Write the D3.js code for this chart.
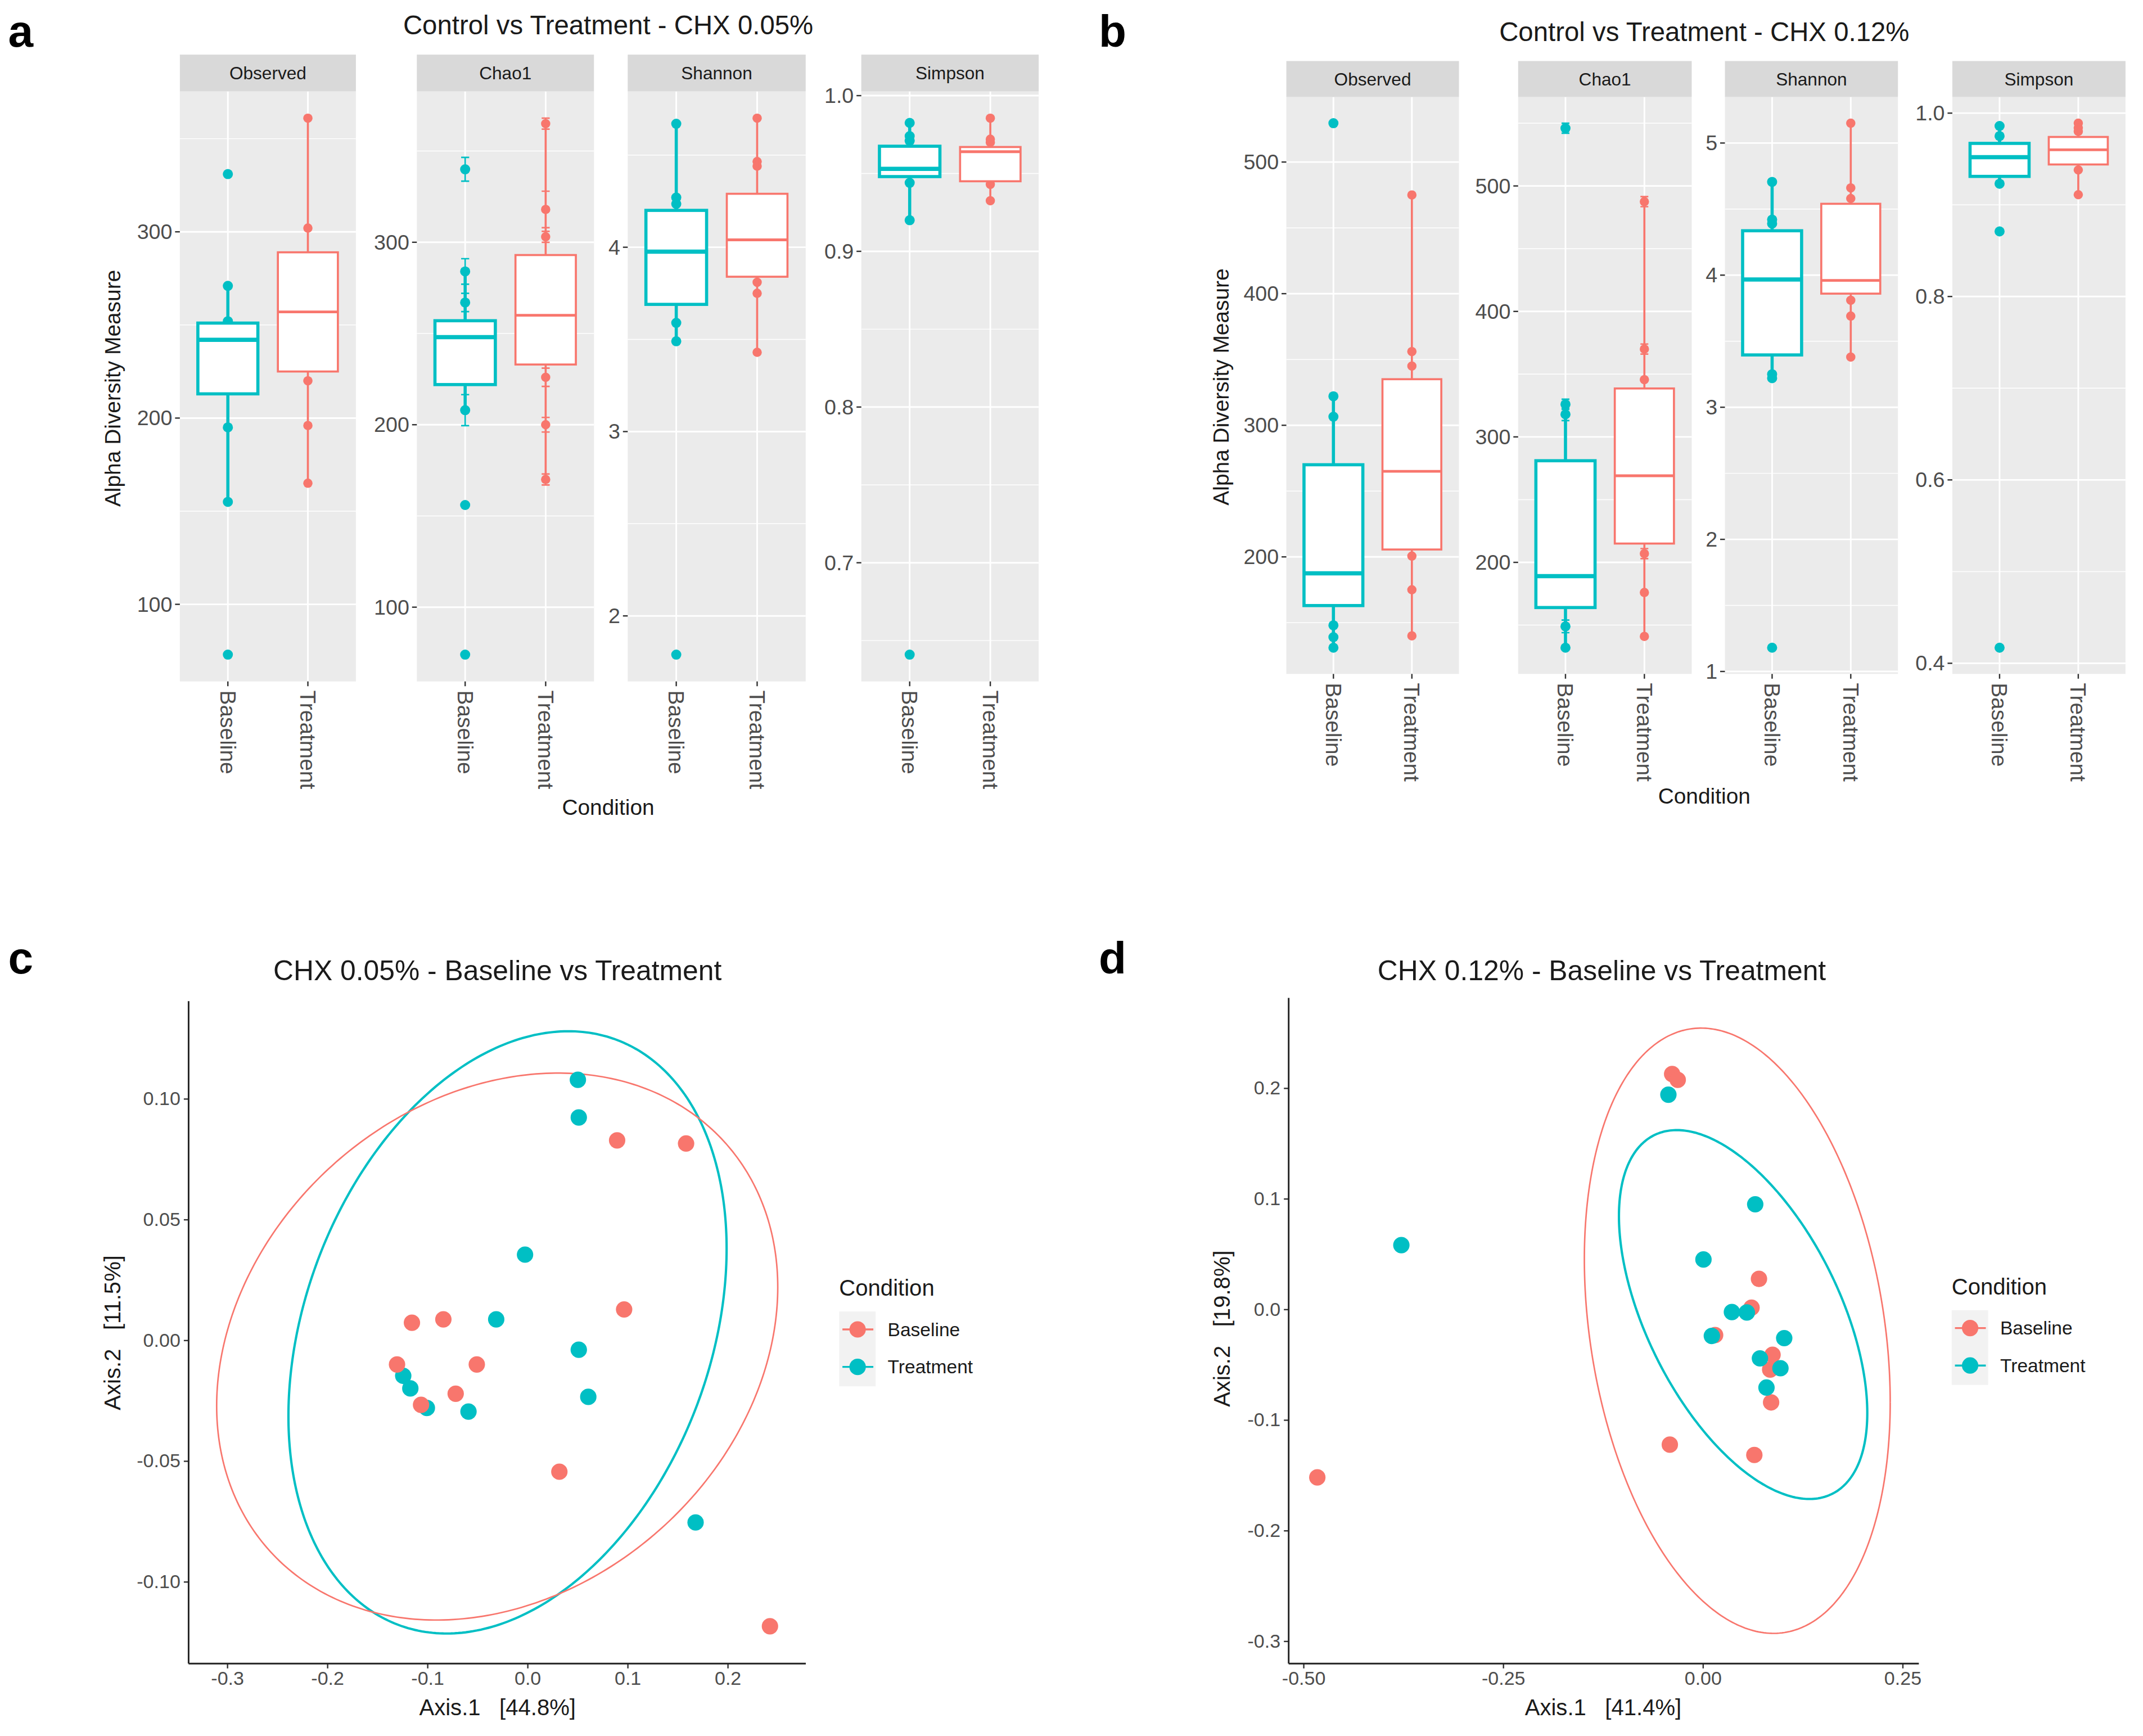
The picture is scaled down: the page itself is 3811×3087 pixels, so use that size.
<!DOCTYPE html>
<html><head><meta charset="utf-8">
<script src="https://cdn.jsdelivr.net/npm/d3@7"></script>
<style>html,body{margin:0;padding:0;background:#fff;} svg{display:block;} text{font-family:"Liberation Sans",Arial,Helvetica,sans-serif; white-space:pre;}</style>
</head><body><svg id="chart"></svg>
<script>
// ---------------- DATA ----------------
const conditions = ["Baseline", "Treatment"];
const measures = ["Observed", "Chao1", "Shannon", "Simpson"];

// Panel a: CHX 0.05%  (points per condition [Baseline, Treatment]; box = [q1, median, q3, whiskerLow, whiskerHigh])
const aObservedPoints = [[331, 271, 252, 195, 155, 73], [361, 302, 220, 196, 165]];
const aObservedBox = [[213, 242, 251, 155, 271], [225, 257, 289, 165, 361]];
const aChao1Points = [[340, 284, 267, 208, 156, 74], [365, 318, 303, 226, 200, 170]];
const aChao1SE = [[6.5, 7, 5, 8.5, 0, 0], [3, 10, 3, 5, 4, 3]];
const aChao1Box = [[222, 248, 257, 208, 284], [233, 260, 293, 170, 365]];
const aShannonPoints = [[4.67, 4.27, 4.235, 3.59, 3.49, 1.79], [4.70, 4.465, 4.44, 3.81, 3.75, 3.43]];
const aShannonBox = [[3.69, 3.976, 4.20, 3.49, 4.67], [3.84, 4.04, 4.29, 3.43, 4.70]];
const aSimpsonPoints = [[0.9825, 0.974, 0.971, 0.944, 0.92, 0.641], [0.9855, 0.972, 0.970, 0.943, 0.9325]];
const aSimpsonBox = [[0.948, 0.953, 0.9675, 0.92, 0.9825], [0.945, 0.964, 0.967, 0.9325, 0.9855]];
const aTicks = [[100, 200, 300], [100, 200, 300], [2, 3, 4], [0.7, 0.8, 0.9, 1.0]];

// Panel b: CHX 0.12%
const bObservedPoints = [[529.5, 322, 306.5, 148, 139, 131], [475, 356, 345, 200.6, 175, 140]];
const bObservedBox = [[163, 187.5, 270, 131, 322], [205.6, 265, 335, 140, 475]];
const bChao1Points = [[546, 326, 318, 149, 132], [487.5, 370, 345.6, 207, 176, 141]];
const bChao1SE = [[4, 4, 5, 5, 0], [4, 4, 0, 4, 0, 0]];
const bChao1Box = [[164, 189, 281, 132, 318], [215, 269, 338.6, 141, 487.5]];
const bShannonPoints = [[4.706, 4.42, 4.39, 3.25, 3.22, 1.18], [5.15, 4.66, 4.58, 3.81, 3.69, 3.38]];
const bShannonBox = [[3.396, 3.967, 4.336, 3.22, 4.706], [3.86, 3.96, 4.54, 3.38, 5.15]];
const bSimpsonPoints = [[0.986, 0.975, 0.923, 0.871, 0.417], [0.989, 0.984, 0.98, 0.938, 0.911]];
const bSimpsonBox = [[0.931, 0.952, 0.967, 0.923, 0.986], [0.944, 0.960, 0.974, 0.911, 0.989]];
const bTicks = [[200, 300, 400, 500], [200, 300, 400, 500], [1, 2, 3, 4, 5], [0.4, 0.6, 0.8, 1.0]];

const tickFormats = ["d", "d", "d", ".1f"];

// Panel c: PCoA CHX 0.05%
const cBaselineX = [0.0899, 0.1588, 0.0969, -0.1151, -0.0837, -0.1300, -0.0503, -0.0714, -0.1060, 0.0322, 0.2426];
const cBaselineY = [0.0826, 0.0813, 0.0126, 0.0071, 0.0085, -0.0102, -0.0102, -0.0223, -0.0269, -0.0546, -0.1186];
const cTreatmentX = [0.0507, 0.0516, -0.0021, -0.0309, 0.0516, 0.0611, -0.1238, -0.1167, -0.1002, -0.0586, 0.1683];
const cTreatmentY = [0.1077, 0.0921, 0.0353, 0.0085, -0.0041, -0.0236, -0.0149, -0.0201, -0.0282, -0.0297, -0.0756];
// ellipse: [centerX, centerY, sdX, sdY, covXY]
const cEllipseBaseline = [-0.0299, -0.00277, 0.2803, 0.11325, 0.006886];
const cEllipseTreatment = [-0.0196, 0.0031, 0.2189, 0.1247, 0.007594];
const cXTicks = [-0.3, -0.2, -0.1, 0.0, 0.1, 0.2];
const cYTicks = [-0.10, -0.05, 0.00, 0.05, 0.10];

// Panel d: PCoA CHX 0.12%
const dBaselineX = [-0.4822, -0.0380, -0.0310, 0.0707, 0.0614, 0.0158, 0.0877, 0.0847, 0.0859, -0.0409, 0.0649];
const dBaselineY = [-0.1523, 0.2124, 0.2071, 0.0272, 0.0012, -0.0236, -0.0414, -0.0548, -0.0845, -0.1227, -0.1320];
const dTreatmentX = [-0.3770, -0.0427, 0.0660, 0.0012, 0.0368, 0.0555, 0.0117, 0.1023, 0.0719, 0.0976, 0.0801];
const dTreatmentY = [0.0577, 0.1937, 0.0946, 0.0447, -0.0028, -0.0032, -0.0244, -0.0264, -0.0447, -0.0536, -0.0711];
const dEllipseBaseline = [0.04355, -0.0197, 0.19145, 0.2736, -0.01239];
const dEllipseTreatment = [0.05085, -0.00507, 0.15545, 0.16675, -0.01384];
const dXTicks = [-0.50, -0.25, 0.00, 0.25];
const dYTicks = [-0.3, -0.2, -0.1, 0.0, 0.1, 0.2];

// ---------------- DRAWING ----------------
const W = 1568, H = 1270;
const TEAL = "#00BFC4", SALMON = "#F8766D";
const loc = d3.formatLocale({decimal: ".", thousands: ",", grouping: [3], currency: ["", ""], minus: "-"});
const svg = d3.select("#chart").attr("width", 3811).attr("height", 3087).attr("viewBox", `0 0 ${W} ${H}`);
svg.append("rect").attr("width", W).attr("height", H).attr("fill", "#fff");

function label(t, x, y, size, opts = {}) {
  const el = svg.append("text").attr("x", x).attr("y", y).attr("font-size", size)
    .attr("fill", opts.fill || "#1a1a1a").attr("text-anchor", opts.anchor || "middle")
    .attr("xml:space", "preserve").text(t);
  if (opts.weight) el.attr("font-weight", opts.weight);
  if (opts.rotate) el.attr("transform", `rotate(${opts.rotate},${x},${y})`);
  if (opts.baseline) el.attr("dominant-baseline", opts.baseline);
  return el;
}

// Panel letters
label("a", 6, 34, 33, {anchor: "start", weight: "bold", fill: "#000"});
label("b", 804, 34, 33, {anchor: "start", weight: "bold", fill: "#000"});
label("c", 6, 712, 33, {anchor: "start", weight: "bold", fill: "#000"});
label("d", 804, 712, 33, {anchor: "start", weight: "bold", fill: "#000"});

const boxColors = [TEAL, SALMON];
const boxStroke = [2.3, 1.5];

function facet(spec) {
  const g = svg.append("g");
  const {x0, x1, stripTop, top, bottom, name, ticks, fmt, points, box, se} = spec;
  let vals = [];
  points.forEach((arr, gi) => arr.forEach((v, i) => {
    const s = se ? se[gi][i] : 0; vals.push(v - s, v + s);
  }));
  box.forEach(b => vals.push(b[3], b[4]));
  const [mn, mx] = d3.extent(vals);
  const pad = (mx - mn) * 0.05;
  const y = d3.scaleLinear().domain([mn - pad, mx + pad]).range([bottom, top]);
  const x = d3.scaleLinear().domain([0.4, 2.6]).range([x0, x1]);
  g.append("rect").attr("x", x0).attr("y", top).attr("width", x1 - x0).attr("height", bottom - top).attr("fill", "#EBEBEB");
  const step = ticks[1] - ticks[0];
  const minors = [ticks[0] - step / 2].concat(ticks.map(t => t + step / 2))
    .filter(v => v >= y.domain()[0] && v <= y.domain()[1]);
  g.selectAll(".mn").data(minors).join("line").attr("x1", x0).attr("x2", x1)
    .attr("y1", d => y(d)).attr("y2", d => y(d)).attr("stroke", "#fff").attr("stroke-width", 0.6);
  g.selectAll(".mj").data(ticks).join("line").attr("x1", x0).attr("x2", x1)
    .attr("y1", d => y(d)).attr("y2", d => y(d)).attr("stroke", "#fff").attr("stroke-width", 1.2);
  g.selectAll(".vj").data([1, 2]).join("line").attr("x1", d => x(d)).attr("x2", d => x(d))
    .attr("y1", top).attr("y2", bottom).attr("stroke", "#fff").attr("stroke-width", 1.2);
  g.append("rect").attr("x", x0).attr("y", stripTop).attr("width", x1 - x0).attr("height", top - stripTop).attr("fill", "#D9D9D9");
  g.append("text").attr("x", (x0 + x1) / 2).attr("y", (stripTop + top) / 2).attr("dominant-baseline", "central")
    .attr("text-anchor", "middle").attr("font-size", 13).attr("fill", "#1a1a1a").text(name);
  const f = fmt === "d" ? (v => String(v)) : loc.format(fmt);
  g.selectAll(".yt").data(ticks).join("line").attr("x1", x0 - 3.5).attr("x2", x0)
    .attr("y1", d => y(d)).attr("y2", d => y(d)).attr("stroke", "#333").attr("stroke-width", 1);
  g.selectAll(".yl").data(ticks).join("text").attr("x", x0 - 5.5).attr("y", d => y(d))
    .attr("dominant-baseline", "central").attr("text-anchor", "end").attr("font-size", 15.5)
    .attr("fill", "#4D4D4D").text(d => f(d));
  g.selectAll(".xt").data([1, 2]).join("line").attr("x1", d => x(d)).attr("x2", d => x(d))
    .attr("y1", bottom).attr("y2", bottom + 3.5).attr("stroke", "#333").attr("stroke-width", 1);
  g.selectAll(".xl").data(conditions).join("text")
    .attr("transform", (d, i) => `translate(${x(i + 1)},${bottom + 6.5}) rotate(90)`)
    .attr("dominant-baseline", "central").attr("text-anchor", "start").attr("font-size", 16)
    .attr("fill", "#4D4D4D").text(d => d);
  points.forEach((arr, gi) => {
    g.selectAll(null).data(arr).join("circle").attr("cx", x(gi + 1)).attr("cy", d => y(d))
      .attr("r", gi === 0 ? 3.7 : 3.4).attr("fill", boxColors[gi]);
  });
  if (se) {
    points.forEach((arr, gi) => {
      arr.forEach((v, i) => {
        const s = se[gi][i]; if (!s) return;
        const cx = x(gi + 1), hw = (x(1.05) - x(1));
        const p = d3.path();
        p.moveTo(cx - hw, y(v + s)); p.lineTo(cx + hw, y(v + s));
        p.moveTo(cx, y(v + s)); p.lineTo(cx, y(v - s));
        p.moveTo(cx - hw, y(v - s)); p.lineTo(cx + hw, y(v - s));
        g.append("path").attr("d", p.toString()).attr("fill", "none").attr("stroke", boxColors[gi]).attr("stroke-width", 1.1);
      });
    });
  }
  box.forEach((b, gi) => {
    const [q1, med, q3, lo, hi] = b;
    const cx = x(gi + 1), hw = (x(1.375) - x(1));
    const col = boxColors[gi], sw = boxStroke[gi];
    g.append("line").attr("x1", cx).attr("x2", cx).attr("y1", y(q3)).attr("y2", y(hi)).attr("stroke", col).attr("stroke-width", sw);
    g.append("line").attr("x1", cx).attr("x2", cx).attr("y1", y(q1)).attr("y2", y(lo)).attr("stroke", col).attr("stroke-width", sw);
    g.append("rect").attr("x", cx - hw).attr("y", y(q3)).attr("width", 2 * hw).attr("height", y(q1) - y(q3))
      .attr("fill", "#fff").attr("stroke", col).attr("stroke-width", sw);
    g.append("line").attr("x1", cx - hw).attr("x2", cx + hw).attr("y1", y(med)).attr("y2", y(med))
      .attr("stroke", col).attr("stroke-width", sw * 1.35);
  });
}

const aPanels = [[131.6, 260.4], [305, 434.6], [459.3, 589.5], [630.2, 760]];
const bPanels = [[941.2, 1067.5], [1110.8, 1237.8], [1262.1, 1388.7], [1428.5, 1555.2]];
const aData = [[aObservedPoints, aObservedBox, null], [aChao1Points, aChao1Box, aChao1SE], [aShannonPoints, aShannonBox, null], [aSimpsonPoints, aSimpsonBox, null]];
const bData = [[bObservedPoints, bObservedBox, null], [bChao1Points, bChao1Box, bChao1SE], [bShannonPoints, bShannonBox, null], [bSimpsonPoints, bSimpsonBox, null]];

measures.forEach((m, i) => {
  facet({x0: aPanels[i][0], x1: aPanels[i][1], stripTop: 39.9, top: 66.8, bottom: 498.5, name: m,
    ticks: aTicks[i], fmt: tickFormats[i], points: aData[i][0], box: aData[i][1], se: aData[i][2]});
  facet({x0: bPanels[i][0], x1: bPanels[i][1], stripTop: 44.6, top: 70.9, bottom: 493, name: m,
    ticks: bTicks[i], fmt: tickFormats[i], points: bData[i][0], box: bData[i][1], se: bData[i][2]});
});

label("Control vs Treatment - CHX 0.05%", 445, 25, 19.5);
label("Control vs Treatment - CHX 0.12%", 1247, 30, 19.5);
label("Alpha Diversity Measure", 88, 284, 16, {rotate: -90});
label("Alpha Diversity Measure", 899, 283, 16, {rotate: -90});
label("Condition", 445, 596, 16);
label("Condition", 1247, 588, 16);

// ---------- Ordination panels ----------
function ellipsePts(e) {
  const [cx, cy, sx, sy, cv] = e;
  const l21 = cv / sx, l22 = Math.sqrt(sy * sy - l21 * l21);
  return d3.range(0, 361).map(i => {
    const t = i / 360 * 2 * Math.PI;
    return [cx + sx * Math.cos(t), cy + l21 * Math.cos(t) + l22 * Math.sin(t)];
  });
}

function ordination(spec) {
  const g = svg.append("g");
  const {x0, x1, y0, y1, groups, xTicks, yTicks, xfmt, yfmt} = spec;
  const allX = [], allY = [];
  groups.forEach(gr => {
    gr.x.forEach(v => allX.push(v)); gr.y.forEach(v => allY.push(v));
    gr.ell = ellipsePts(gr.ellipse);
    gr.ell.forEach(p => { allX.push(p[0]); allY.push(p[1]); });
  });
  const ex = d3.extent(allX), ey = d3.extent(allY);
  const px = (ex[1] - ex[0]) * 0.05, py = (ey[1] - ey[0]) * 0.05;
  const x = d3.scaleLinear().domain([ex[0] - px, ex[1] + px]).range([x0, x1]);
  const y = d3.scaleLinear().domain([ey[0] - py, ey[1] + py]).range([y1, y0]);
  const line = d3.line().x(d => x(d[0])).y(d => y(d[1]));
  groups.forEach(gr => {
    g.append("path").attr("d", line(gr.ell)).attr("fill", "none").attr("stroke", gr.color).attr("stroke-width", gr.ellW);
  });
  groups.forEach(gr => {
    g.selectAll(null).data(gr.x).join("circle").attr("cx", d => x(d)).attr("cy", (d, i) => y(gr.y[i]))
      .attr("r", 6).attr("fill", gr.color);
  });
  const xAxis = d3.axisBottom(x).tickValues(xTicks).tickFormat(loc.format(xfmt)).tickSize(3.5).tickPadding(2);
  const yAxis = d3.axisLeft(y).tickValues(yTicks).tickFormat(loc.format(yfmt)).tickSize(3.5).tickPadding(2.5);
  const gx = g.append("g").attr("transform", `translate(0,${y1})`).call(xAxis);
  const gy = g.append("g").attr("transform", `translate(${x0},0)`).call(yAxis);
  [gx, gy].forEach(a => {
    a.select(".domain").remove();
    a.selectAll(".tick line").attr("stroke", "#333").attr("stroke-width", 1);
    a.selectAll(".tick text").attr("fill", "#4D4D4D").attr("font-size", 14)
      .attr("font-family", '"Liberation Sans", Arial, Helvetica, sans-serif');
  });
  g.append("line").attr("x1", x0).attr("x2", x1).attr("y1", y1).attr("y2", y1).attr("stroke", "#222").attr("stroke-width", 1.2);
  g.append("line").attr("x1", x0).attr("x2", x0).attr("y1", y0).attr("y2", y1).attr("stroke", "#222").attr("stroke-width", 1.2);
}

function legend(lx, ly) {
  label("Condition", lx, ly, 16.5, {anchor: "start"});
  svg.append("rect").attr("x", lx).attr("y", ly + 11.5).attr("width", 26.7).attr("height", 54.7).attr("fill", "#F2F2F2");
  const cols = [SALMON, TEAL];
  conditions.forEach((c, i) => {
    const cy = ly + 24.6 + i * 27.4;
    svg.append("line").attr("x1", lx + 2.4).attr("x2", lx + 25).attr("y1", cy).attr("y2", cy).attr("stroke", cols[i]).attr("stroke-width", 1.4);
    svg.append("circle").attr("cx", lx + 13.5).attr("cy", cy).attr("r", 6).attr("fill", cols[i]);
    label(c, lx + 35.5, cy, 13.8, {anchor: "start", baseline: "central"});
  });
}

ordination({x0: 138.0, x1: 589.6, y0: 732.4, y1: 1217.1, xTicks: cXTicks, yTicks: cYTicks, xfmt: ".1f", yfmt: ".2f",
  groups: [
    {x: cTreatmentX, y: cTreatmentY, color: TEAL, ellipse: cEllipseTreatment, ellW: 1.7},
    {x: cBaselineX, y: cBaselineY, color: SALMON, ellipse: cEllipseBaseline, ellW: 1.1}
  ]});
ordination({x0: 942.9, x1: 1404, y0: 730, y1: 1217.1, xTicks: dXTicks, yTicks: dYTicks, xfmt: ".2f", yfmt: ".1f",
  groups: [
    {x: dBaselineX, y: dBaselineY, color: SALMON, ellipse: dEllipseBaseline, ellW: 1.1},
    {x: dTreatmentX, y: dTreatmentY, color: TEAL, ellipse: dEllipseTreatment, ellW: 1.7}
  ]});

label("CHX 0.05% - Baseline vs Treatment", 364, 717, 20.5);
label("CHX 0.12% - Baseline vs Treatment", 1172, 717, 20.5);
label("Axis.1   [44.8%]", 364, 1255, 16.5);
label("Axis.1   [41.4%]", 1173, 1255, 16.5);
label("Axis.2   [11.5%]", 88, 975, 16.5, {rotate: -90});
label("Axis.2   [19.8%]", 900, 972, 16.5, {rotate: -90});
legend(614, 948);
legend(1428, 947);
</script>
</body></html>
